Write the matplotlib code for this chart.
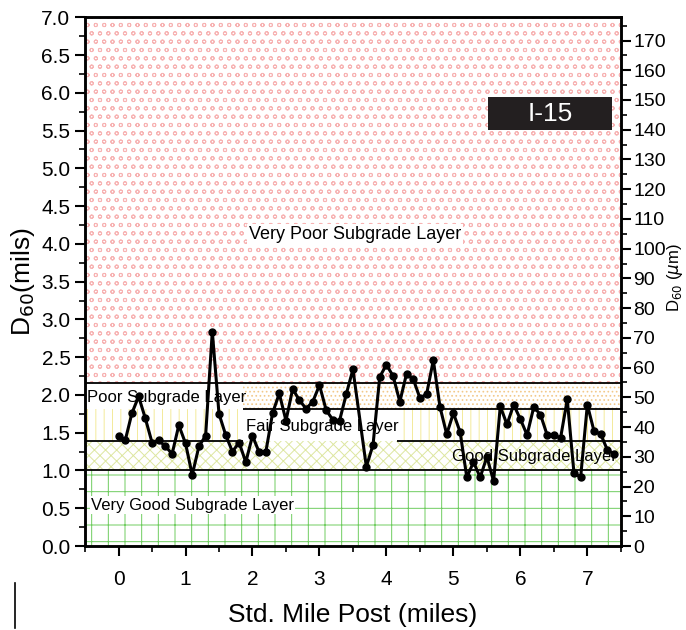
import matplotlib
matplotlib.use("Agg")
import matplotlib.pyplot as plt
from matplotlib.lines import Line2D
from matplotlib.patches import Rectangle
from matplotlib.ticker import MultipleLocator, FormatStrFormatter
import numpy as np

plt.rcParams['font.family'] = ['Liberation Sans Narrow', 'Liberation Sans', 'DejaVu Sans']
plt.rcParams['hatch.linewidth'] = 0.7

# ---- data ----
mile_post = [0.0, 0.1, 0.2, 0.3, 0.4, 0.5, 0.6, 0.7, 0.8, 0.9,
             1.0, 1.1, 1.2, 1.3, 1.4, 1.5, 1.6, 1.7, 1.8, 1.9,
             2.0, 2.1, 2.2, 2.3, 2.4, 2.5, 2.6, 2.7, 2.8, 2.9,
             3.0, 3.1, 3.2, 3.3, 3.4, 3.5, 3.7, 3.8, 3.9,
             4.0, 4.1, 4.2, 4.3, 4.4, 4.5, 4.6, 4.7, 4.8, 4.9,
             5.0, 5.1, 5.2, 5.3, 5.4, 5.5, 5.6, 5.7, 5.8, 5.9,
             6.0, 6.1, 6.2, 6.3, 6.4, 6.5, 6.6, 6.7, 6.8, 6.9,
             7.0, 7.1, 7.2, 7.3, 7.4]
d60_mils = [1.46, 1.40, 1.76, 1.98, 1.69, 1.37, 1.40, 1.32, 1.22, 1.60,
            1.36, 0.94, 1.32, 1.46, 2.84, 1.75, 1.47, 1.25, 1.37, 1.11,
            1.46, 1.24, 1.25, 1.76, 2.02, 1.66, 2.08, 1.93, 1.82, 1.91,
            2.13, 1.80, 1.67, 1.66, 2.01, 2.34, 1.05, 1.34, 2.24,
            2.40, 2.25, 1.91, 2.28, 2.21, 1.96, 2.01, 2.46, 1.84, 1.48,
            1.76, 1.51, 0.91, 1.11, 0.91, 1.18, 0.86, 1.85, 1.61, 1.87,
            1.68, 1.47, 1.84, 1.74, 1.47, 1.47, 1.43, 1.94, 0.97, 0.91,
            1.87, 1.52, 1.48, 1.27, 1.22]

# layer boundaries (mils) and section breaks (miles)
layer_bounds = [0.0, 1.0, 1.39, 1.82, 2.165, 7.0]
section_breaks = [-0.5, 1.86, 4.16, 7.5]
layer_labels = ["Very Good Subgrade Layer", "Good Subgrade Layer",
                "Fair Subgrade Layer", "Poor Subgrade Layer",
                "Very Poor Subgrade Layer"]
x_ticks = [0, 1, 2, 3, 4, 5, 6, 7]
MIL_TO_UM = 25.4

fig = plt.figure(figsize=(6.86, 6.30), dpi=100)
ax = fig.add_axes([0.124, 0.1333, 0.781, 0.8392])
ax.set_xlim(section_breaks[0], section_breaks[-1])
ax.set_ylim(layer_bounds[0], layer_bounds[-1])

x0, x1 = section_breaks[0], section_breaks[-1]
s1, s2 = section_breaks[1], section_breaks[2]
b = layer_bounds

def band(xa, xb, ya, yb, hatch, color):
    ax.fill_between([xa, xb], ya, yb, facecolor='white', edgecolor=color,
                    hatch=hatch, linewidth=0, zorder=1)

# very poor (red)
band(x0, x1, b[4], b[5], 'oo', '#f7b3b3')
# poor (orange) only sections 2 and 3
band(s1, x1, b[3], b[4], '....', '#f2c98a')
# fair (yellow vertical lines) sections 1 and 3
band(x0, s1, b[2], b[3], '||', '#f3ea9a')
band(s2, x1, b[2], b[3], '||', '#f3ea9a')
# good (yellow-green dots)
band(x0, x1, b[1], b[2], 'xxx', '#dde6a0')
# very good (green grid)
band(x0, x1, b[0], b[1], '+', '#6fcc5f')

# boundary lines
lw = 1.3
ax.hlines([b[1], b[4]], x0, x1, color='black', lw=lw, zorder=2)
ax.hlines(b[3], s1, x1, color='black', lw=lw, zorder=2)
ax.hlines(b[2], x0, s1, color='black', lw=lw, zorder=2)
ax.hlines(b[2], s2, x1, color='black', lw=lw, zorder=2)

# labels
lab_font = ['Liberation Sans', 'DejaVu Sans']
ax.text(-0.47, 1.97, layer_labels[3], fontsize=12, family=lab_font, va='center', ha='left', zorder=3)
ax.text(1.91, 1.58, layer_labels[2], fontsize=12, family=lab_font, va='center', ha='left', zorder=3)
ax.text(4.98, 1.18, layer_labels[1], fontsize=12, family=lab_font, va='center', ha='left', zorder=3)
ax.text(-0.41, 0.54, layer_labels[0], fontsize=12, family=lab_font, va='center', ha='left', zorder=3,
        bbox=dict(facecolor='white', edgecolor='none', pad=1))
ax.text(3.53, 4.13, layer_labels[4], fontsize=13, family=lab_font, va='center', ha='center', zorder=3,
        bbox=dict(facecolor='white', edgecolor='none', pad=1))

# data
ax.plot(mile_post, d60_mils, color='black', lw=2.2, marker='o', ms=5, zorder=4)

# I-15 box
ax.add_patch(Rectangle((0.752, 0.787), 0.232, 0.062, transform=ax.transAxes,
                       facecolor='#231f20', edgecolor='none', zorder=5))
ax.text(0.868, 0.818, "I-15", transform=ax.transAxes, color='white', fontsize=19,
        family=lab_font, ha='center', va='center', zorder=6)

# axes styling
for sp in ax.spines.values():
    sp.set_linewidth(1.8)
ax.set_xticks(x_ticks)
ax.xaxis.set_minor_locator(MultipleLocator(0.5))
ax.yaxis.set_major_locator(MultipleLocator(0.5))
ax.yaxis.set_minor_locator(MultipleLocator(0.25))
ax.yaxis.set_major_formatter(FormatStrFormatter('%.1f'))
ax.tick_params(which='major', direction='out', length=7, width=1.5, labelsize=15)
ax.tick_params(which='minor', direction='out', length=4, width=1.2)
ax.tick_params(axis='x', pad=10)
ax.set_xlabel("Std. Mile Post (miles)", fontsize=19, labelpad=10)
ax.set_ylabel(r"D$_{60}$(mils)", fontsize=19, labelpad=3)

ax2 = ax.twinx()
ax2.set_ylim(layer_bounds[0] * MIL_TO_UM, layer_bounds[-1] * MIL_TO_UM)
ax2.yaxis.set_major_locator(MultipleLocator(10))
ax2.yaxis.set_minor_locator(MultipleLocator(5))
ax2.tick_params(which='major', direction='out', length=7, width=1.5, labelsize=14, pad=2)
ax2.tick_params(which='minor', direction='out', length=4, width=1.2)
for sp in ax2.spines.values():
    sp.set_linewidth(1.8)

# right axis title kept inside the canvas
fig.text(0.999, 0.56, r"D$_{60}$ ($\mu$m)", fontsize=12, rotation=90,
         ha='right', va='center')

# stray vertical mark at bottom-left of the original image
fig.add_artist(Line2D([0.022, 0.022], [0.003, 0.075], color='black', lw=1.2))

fig.savefig("out.png", dpi=100)
